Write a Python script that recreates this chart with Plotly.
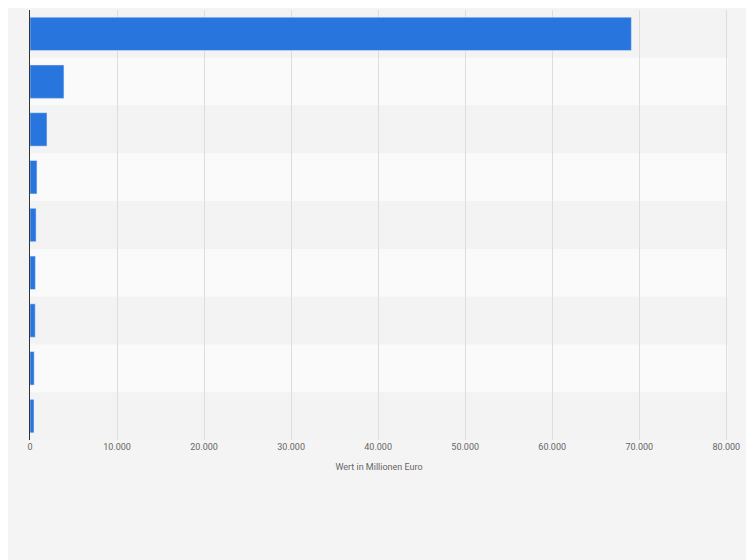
import plotly.graph_objects as go

# Werte in Millionen Euro (von oben nach unten)
categories = ["1", "2", "3", "4", "5", "6", "7", "8", "9"]
values = [69100, 3900, 1950, 800, 700, 620, 600, 480, 460]
tick_vals = [0, 10000, 20000, 30000, 40000, 50000, 60000, 70000, 80000]
tick_text = ["0", "10.000", "20.000", "30.000", "40.000", "50.000", "60.000", "70.000", "80.000"]

fig = go.Figure(go.Bar(
    x=values, y=categories, orientation="h",
    marker_color="#2876dd", width=0.7,
))

# abwechselnde Zeilenhintergründe
shapes = []
for i, c in enumerate(categories):
    shapes.append(dict(type="rect", xref="paper", yref="y", layer="below",
                       x0=0, x1=1, y0=i - 0.5, y1=i + 0.5, line_width=0,
                       fillcolor="#f3f3f3" if i % 2 == 0 else "#fafafa"))

fig.update_layout(
    width=754, height=560,
    margin=dict(l=22, r=34, t=2, b=128),
    paper_bgcolor="#f4f4f4", plot_bgcolor="#f4f4f4",
    shapes=shapes, showlegend=False,
    font=dict(family="Roboto", size=9, color="#666666"),
    xaxis=dict(range=[0, 80200], tickvals=tick_vals, ticktext=tick_text,
               showgrid=True, gridcolor="#dddddd", zeroline=False,
               title=dict(text="Wert in Millionen Euro", font=dict(size=9, color="#666666"), standoff=12)),
    yaxis=dict(showticklabels=False, showgrid=False,
               showline=True, linecolor="#333333", linewidth=1),
    bargap=0.3,
)
fig.update_yaxes(autorange=False, range=[8.5, -0.5])

fig.write_html("out.html")
